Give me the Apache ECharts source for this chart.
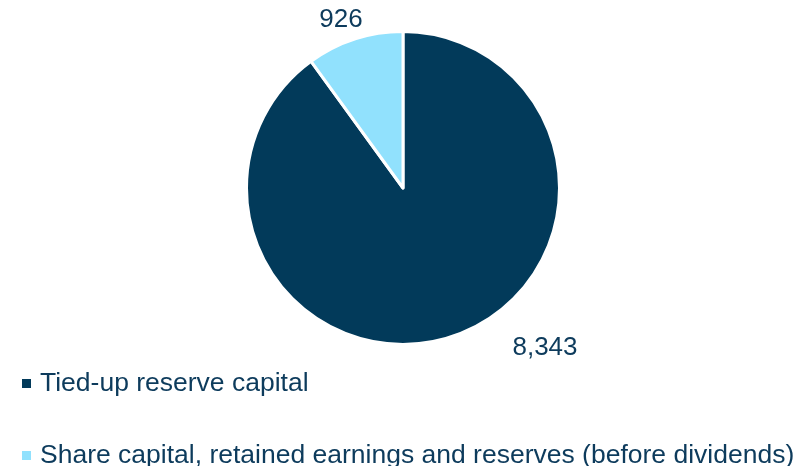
<!DOCTYPE html>
<html>
<head>
<meta charset="utf-8">
<style>
  html, body { margin: 0; padding: 0; background: #ffffff; }
  #chart { width: 810px; height: 466px; }
</style>
<script src="https://cdn.jsdelivr.net/npm/echarts@6/dist/echarts.min.js"></script>
</head>
<body>
<div id="chart"></div>
<script>
// Equity breakdown (slices drawn clockwise from 12 o'clock)
const categories = [
  'Tied-up reserve capital',
  'Share capital, retained earnings and reserves (before dividends)'
];
const values = [8343, 926];

// Layout / style settings
const sliceColors = ['#023a5a', '#91e1fd'];
const textColor = '#0d3b5c';
const fontFamily = '"Liberation Sans", Arial, sans-serif';
const labelSpots = [[545, 348], [341, 20]];

const chart = echarts.init(document.getElementById('chart'), null, { renderer: 'canvas' });

chart.setOption({
  animation: false,
  color: sliceColors,
  legend: {
    orient: 'vertical',
    left: 20,
    top: 370,
    height: 110,
    padding: 0,
    itemWidth: 11,
    itemHeight: 11,
    itemGap: 45,
    icon: 'rect',
    data: categories,
    textStyle: {
      color: textColor,
      fontFamily: fontFamily,
      fontSize: 26.5,
      lineHeight: 26,
      padding: [0, 0, 0, 3]
    }
  },
  series: [{
    type: 'pie',
    center: [403, 188],
    radius: 156.5,
    startAngle: 90,
    clockwise: true,
    silent: true,
    itemStyle: { borderColor: '#ffffff', borderWidth: 3 },
    label: {
      show: true,
      position: 'outside',
      color: textColor,
      fontFamily: fontFamily,
      fontSize: 26,
      formatter: p => p.value.toLocaleString('en-US')
    },
    labelLine: { show: false },
    labelLayout: params => ({
      x: labelSpots[params.dataIndex][0],
      y: labelSpots[params.dataIndex][1],
      align: 'center',
      verticalAlign: 'middle'
    }),
    data: categories.map((name, i) => ({ name: name, value: values[i] }))
  }]
});
</script>
</body>
</html>
